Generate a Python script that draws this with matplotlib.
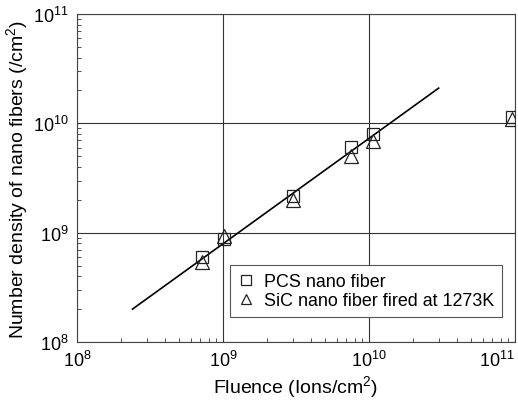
import matplotlib
matplotlib.use("Agg")
import matplotlib.pyplot as plt
from matplotlib.ticker import LogLocator, NullFormatter

plt.rcParams['font.family'] = ['Liberation Sans', 'DejaVu Sans']
plt.rcParams['mathtext.fontset'] = 'custom'
plt.rcParams['mathtext.rm'] = 'Liberation Sans'
plt.rcParams['mathtext.it'] = 'Liberation Sans'
plt.rcParams['mathtext.bf'] = 'Liberation Sans'
plt.rcParams['mathtext.default'] = 'regular'

# Data
fluence = [7.2e8, 1.02e9, 3.0e9, 7.5e9, 1.06e10, 9.6e10]
pcs_density = [6.0e8, 8.7e8, 2.16e9, 6.1e9, 8.0e9, 1.14e10]
sic_density = [5.4e8, 9.3e8, 2.0e9, 5.0e9, 6.9e9, 1.1e10]
fit_x = [2.4e8, 3.0e10]
fit_y = [2.0e8, 2.1e10]
major_ticks = [1e8, 1e9, 1e10, 1e11]
tick_labels = ["$10^{8}$", "$10^{9}$", "$10^{10}$", "$10^{11}$"]

pcs_label = "PCS nano fiber"
sic_label = "SiC nano fiber fired at 1273K"
xlabel = "Fluence (Ions/cm$^{2}$)"
ylabel = "Number density of nano fibers (/cm$^{2}$)"

fig = plt.figure(figsize=(5.18, 4.10), dpi=100)
ax = fig.add_axes([0.1486, 0.1634, 0.8456, 0.8])

ax.plot(fit_x, fit_y, color='black', lw=1.2, zorder=3)
ax.plot(fluence, pcs_density, linestyle='none', marker='s', markersize=9,
        markerfacecolor='none', markeredgecolor='#222222', markeredgewidth=0.9,
        label=pcs_label, zorder=4)
ax.plot(fluence, sic_density, linestyle='none', marker='^', markersize=10,
        markerfacecolor='none', markeredgecolor='#222222', markeredgewidth=0.9,
        label=sic_label, zorder=4)

ax.set_xscale('log')
ax.set_yscale('log')
ax.set_xlim(1e8, 1e11)
ax.set_ylim(1e8, 1e11)

ax.set_xticks(major_ticks)
ax.set_xticklabels(tick_labels)
ax.set_yticks(major_ticks)
ax.set_yticklabels(tick_labels)
ax.xaxis.set_minor_locator(LogLocator(base=10, subs=range(2, 10), numticks=20))
ax.yaxis.set_minor_locator(LogLocator(base=10, subs=range(2, 10), numticks=20))
ax.xaxis.set_minor_formatter(NullFormatter())
ax.yaxis.set_minor_formatter(NullFormatter())
ax.get_xticklabels()[-1].set_horizontalalignment('right')

ax.grid(True, which='major', color='#333333', lw=0.8)
ax.tick_params(which='both', direction='in', colors='#333333', labelcolor='black',
               labelsize=13)
ax.tick_params(which='major', length=0, pad=6)
ax.tick_params(which='minor', length=3, width=0.6)
for s in ax.spines.values():
    s.set_color('#444444')
    s.set_linewidth(0.8)

ax.set_xlabel(xlabel, fontsize=14, labelpad=2)
ax.set_ylabel(ylabel, fontsize=14, labelpad=2)

leg = ax.legend(loc='lower right', bbox_to_anchor=(0.970, 0.076), borderaxespad=0,
                fontsize=12.9, frameon=True, fancybox=False, edgecolor='#555555',
                handlelength=0.8, handletextpad=0.6, borderpad=0.45,
                labelspacing=0.1, markerscale=0.75, framealpha=1)
leg.get_frame().set_linewidth(0.8)

fig.savefig("out.png", dpi=100)
